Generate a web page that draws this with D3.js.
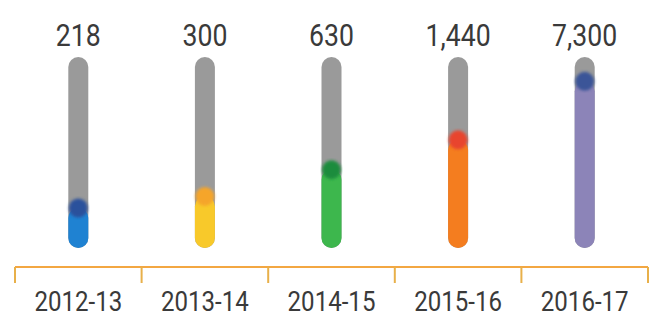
<!DOCTYPE html>
<html>
<head>
<meta charset="utf-8">
<script src="https://cdn.jsdelivr.net/npm/d3@7"></script>
<style>
  body { margin: 0; background: #fff; }
  text { font-family: "Roboto", sans-serif; fill: #3a3a3a; }
</style>
</head>
<body>
<div id="vis"></div>
<script>
// data
var years = ["2012-13", "2013-14", "2014-15", "2015-16", "2016-17"]
var values = [218, 300, 630, 1440, 7300]
var labels = ["218", "300", "630", "1,440", "7,300"]
var fillColors = ["#1f82d2", "#f8c92a", "#3db74d", "#f47d1f", "#8c84b8"]
var dotColors = ["#2b519c", "#f5a52a", "#1f8c3e", "#e8452f", "#3b5598"]

var width = 650, height = 319
var tubeTop = 57, tubeBottom = 248, tubeW = 20
var axisY = 267
var squeeze = 0.86   // the original font is narrow

var x = d3.scaleBand()
  .domain(years)
  .range([15, 648])
  .padding(0)

// log scale, the fill heights follow it
var y = d3.scaleLog()
  .domain([100, 10000])
  .range([236, 70])

var svg = d3.select("#vis")
  .append("svg")
  .attr("width", width)
  .attr("height", height)

var defs = svg.append("defs")
defs.append("filter").attr("id", "soft")
  .append("feGaussianBlur").attr("stdDeviation", 1.6)

var g = svg.selectAll("g.tube")
  .data(years)
  .enter()
  .append("g")
  .attr("class", "tube")
  .attr("transform", d => `translate(${x(d) + x.bandwidth() / 2},0)`)

// gray tube
g.append("rect")
  .attr("x", -tubeW / 2)
  .attr("y", tubeTop)
  .attr("width", tubeW)
  .attr("height", tubeBottom - tubeTop)
  .attr("rx", tubeW / 2)
  .style("fill", "#9a9a9a")

// coloured fill
g.append("rect")
  .attr("x", -tubeW / 2)
  .attr("y", (d, i) => y(values[i]))
  .attr("width", tubeW)
  .attr("height", (d, i) => tubeBottom - y(values[i]))
  .attr("rx", tubeW / 2)
  .style("fill", (d, i) => fillColors[i])

// dot at the top of the fill
g.append("circle")
  .attr("cy", (d, i) => y(values[i]))
  .attr("r", tubeW / 2 - 0.5)
  .style("fill", (d, i) => dotColors[i])
  .attr("filter", "url(#soft)")

// value labels
g.append("text")
  .attr("transform", `translate(0,46) scale(${squeeze},1)`)
  .style("text-anchor", "middle")
  .style("font-size", "31px")
  .text((d, i) => labels[i])

// bracket axis
var axis = svg.append("g")
  .attr("transform", `translate(0,${axisY})`)

axis.append("line")
  .attr("x1", 15).attr("x2", 648)
  .style("stroke", "#f3a742").style("stroke-width", 2)

var edges = years.map(d => x(d)).concat([x.range()[1]])
axis.selectAll("line.edge")
  .data(edges)
  .enter()
  .append("line")
  .attr("class", "edge")
  .attr("x1", d => d).attr("x2", d => d)
  .attr("y1", 0).attr("y2", 16)
  .style("stroke", "#e8b04a").style("stroke-width", 2)

axis.selectAll("text.year")
  .data(years)
  .enter()
  .append("text")
  .attr("class", "year")
  .attr("transform", d => `translate(${x(d) + x.bandwidth() / 2},44) scale(${squeeze},1)`)
  .style("text-anchor", "middle")
  .style("font-size", "28px")
  .text(d => d)
</script>
</body>
</html>
